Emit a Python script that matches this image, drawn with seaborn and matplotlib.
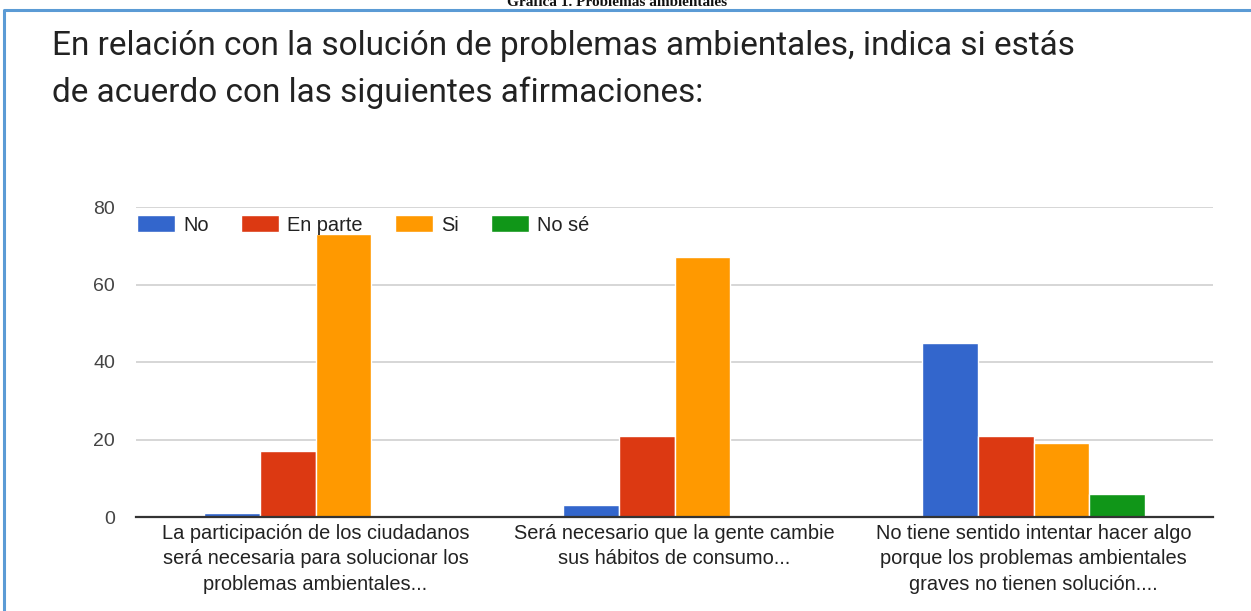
import pandas as pd
import matplotlib.pyplot as plt
import seaborn as sns
from matplotlib.lines import Line2D

# Datos
afirmaciones = [
    "La participación de los ciudadanos\nserá necesaria para solucionar los\nproblemas ambientales...",
    "Será necesario que la gente cambie\nsus hábitos de consumo...",
    "No tiene sentido intentar hacer algo\nporque los problemas ambientales\ngraves no tienen solución....",
]
respuestas = ["No", "En parte", "Si", "No sé"]
valores_no = [1, 3, 45]
valores_en_parte = [17, 21, 21]
valores_si = [73, 67, 19]
valores_no_se = [0, 0, 6]
colores = ["#3366CC", "#DC3912", "#FF9900", "#109618"]

filas = []
for serie, vals in zip(respuestas, [valores_no, valores_en_parte, valores_si, valores_no_se]):
    for af, v in zip(afirmaciones, vals):
        filas.append({"Afirmación": af, "Respuesta": serie, "Total": v})
df = pd.DataFrame(filas)

sns.set_theme(style="white")
plt.rcParams["font.family"] = ["Liberation Sans", "DejaVu Sans"]

fig = plt.figure(figsize=(12.51, 6.11), dpi=100)
ax = fig.add_axes([136 / 1251, 1 - 517 / 611, (1213 - 136) / 1251, 310 / 611])

sns.barplot(data=df, x="Afirmación", y="Total", hue="Respuesta",
            hue_order=respuestas, palette=colores, width=0.62,
            edgecolor="white", linewidth=1, saturation=1, ax=ax)

ax.set_xlim(-0.5, 2.5)
ax.set_ylim(0, 80)
ax.set_yticks([0, 20, 40, 60, 80])
ax.yaxis.grid(True, color="#d0d0d0", linewidth=1.2)
ax.set_axisbelow(True)
for s in ["top", "right", "left"]:
    ax.spines[s].set_visible(False)
ax.spines["bottom"].set_color("#333333")
ax.spines["bottom"].set_linewidth(1.6)
ax.set_xlabel("")
ax.set_ylabel("")
ax.tick_params(axis="y", length=0, pad=15, labelsize=14, labelcolor="#444444")
ax.tick_params(axis="x", length=0, pad=5, labelsize=14.4, labelcolor="#222222")
for lbl in ax.get_xticklabels():
    lbl.set_linespacing(1.42)
    lbl.set_verticalalignment("top")

handles, labels = ax.get_legend_handles_labels()
ax.legend(handles, labels, ncol=4, frameon=False, loc="center left",
          bbox_to_anchor=(137 / 1251, 1 - 225 / 611), bbox_transform=fig.transFigure,
          handlelength=1.9, handleheight=0.9, handletextpad=0.42,
          columnspacing=1.6, fontsize=14.4, borderaxespad=0, borderpad=0,
          labelcolor="#222222")

fig.text(52 / 1251, 1 - 46 / 611,
         "En relación con la solución de problemas ambientales, indica si estás",
         family=["Roboto"], fontsize=24, color="#222222", va="center", ha="left")
fig.text(52 / 1251, 1 - 93 / 611,
         "de acuerdo con las siguientes afirmaciones:",
         family=["Roboto"], fontsize=24, color="#222222", va="center", ha="left")

# pie de gráfica recortado arriba
fig.text(617 / 1251, 1 - 3 / 611, "Gráfica 1. Problemas ambientales",
         family=["Liberation Serif"], fontweight="bold", fontsize=11,
         va="center", ha="center", color="#111111")

# marco azul (izquierda y arriba)
fig.add_artist(Line2D([4 / 1251, 4 / 1251, 1], [0, 1 - 10 / 611, 1 - 10 / 611],
                      color="#5B9BD5", linewidth=2.2, transform=fig.transFigure))

fig.savefig("out.png", dpi=100)
